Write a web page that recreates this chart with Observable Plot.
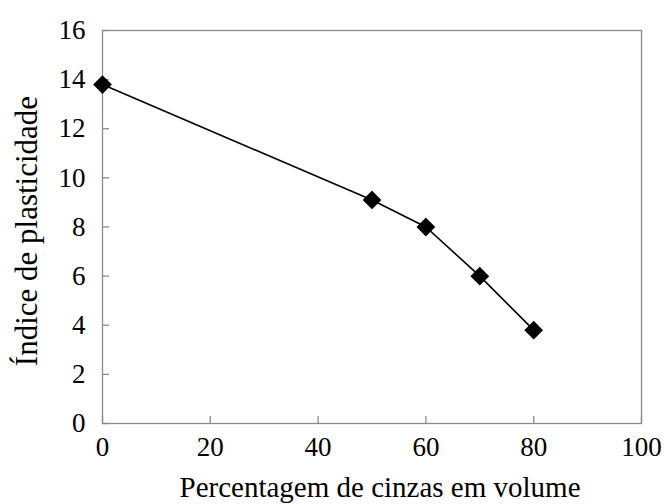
<!DOCTYPE html>
<html>
<head>
<meta charset="utf-8">
<script src="https://cdn.jsdelivr.net/npm/d3@7"></script>
<script src="https://cdn.jsdelivr.net/npm/@observablehq/plot@0.6"></script>
<style>
  html, body { margin: 0; padding: 0; background: #fff; }
  #chart svg { display: block; }
  #chart svg, #chart svg text { font-family: "Liberation Serif", "Times New Roman", serif !important; }
</style>
</head>
<body>
<div id="chart"></div>
<script>
const ashPercent = [0, 50, 60, 70, 80];
const plasticityIndex = [13.8, 9.1, 8.0, 6.0, 3.8];
const xTicks = [0, 20, 40, 60, 80, 100];
const yTicks = [0, 2, 4, 6, 8, 10, 12, 14, 16];
const xLabel = "Percentagem de cinzas em volume";
const yLabel = "Índice de plasticidade";

const data = ashPercent.map((x, i) => ({x, y: plasticityIndex[i]}));

const chart = Plot.plot({
  width: 664,
  height: 504,
  marginLeft: 102,
  marginRight: 23,
  marginTop: 30,
  marginBottom: 81,
  style: {fontFamily: "'Liberation Serif', 'Times New Roman', serif", fontSize: "27px", color: "#000", background: "#fff"},
  x: {domain: [0, 100]},
  y: {domain: [0, 16]},
  marks: [
    Plot.frame({stroke: "#8a8a8a", strokeWidth: 1.3}),
    Plot.axisX({ticks: xTicks, tickSize: -7, tickPadding: 20, fontSize: 27, stroke: "#8a8a8a", strokeWidth: 1.3, fill: "#000", label: null, tickFormat: d => d}),
    Plot.axisY({ticks: yTicks, tickSize: -7, tickPadding: 24, fontSize: 27, stroke: "#8a8a8a", strokeWidth: 1.3, fill: "#000", label: null, tickFormat: d => d}),
    Plot.line(data, {x: "x", y: "y", stroke: "#000", strokeWidth: 1.6}),
    Plot.dot(data, {x: "x", y: "y", symbol: "diamond2", r: 7.5, fill: "#000", stroke: "#000"}),
    Plot.text([xLabel], {frameAnchor: "bottom", textAnchor: "middle", lineAnchor: "middle", dy: 64, dx: 8, text: d => d, fontSize: 29, fill: "#000"}),
    Plot.text([yLabel], {frameAnchor: "left", textAnchor: "middle", lineAnchor: "middle", dx: -75, dy: 4, rotate: -90, text: d => d, fontSize: 31, fill: "#000"})
  ]
});
document.getElementById("chart").append(chart);
</script>
</body>
</html>
